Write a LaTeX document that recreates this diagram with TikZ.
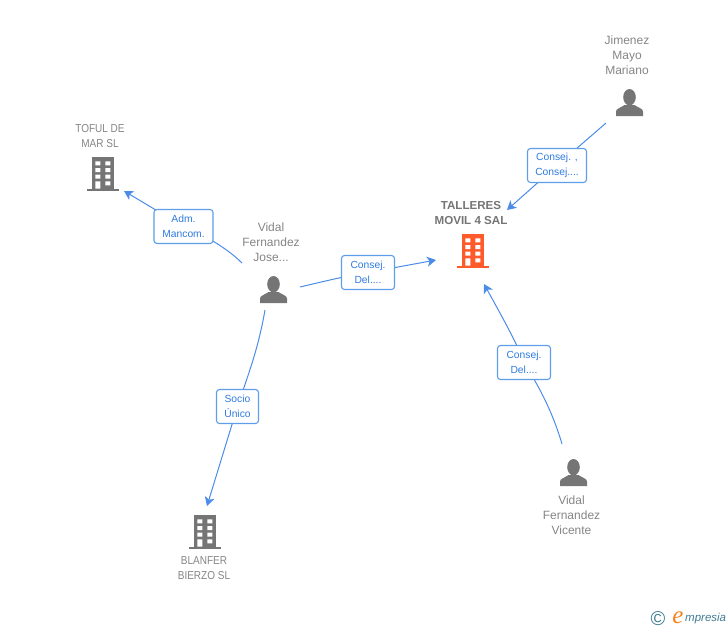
\documentclass[tikz,border=0pt]{standalone}
\usepackage{fontspec}
\setmainfont{Liberation Sans}
\newfontfamily\logoserif{Liberation Serif}
\newfontfamily\narrowcaps[FakeStretch=0.87]{Liberation Sans}
\usetikzlibrary{arrows.meta,backgrounds}
\definecolor{icongrey}{HTML}{757575}
\definecolor{iconorange}{HTML}{FF5A2C}
\definecolor{linkblue}{HTML}{4A8CE8}
\definecolor{boxblue}{HTML}{5E9DEA}
\definecolor{labelblue}{HTML}{2F7BDF}
\definecolor{namegrey}{HTML}{858585}
\definecolor{logoteal}{HTML}{3F7C94}
\definecolor{logoorange}{HTML}{F58220}
\newcommand{\rl}[1]{\raisebox{-0.7pt}{#1}}
\tikzset{
  x=1pt,y=-1pt,
  person/.pic={
    \fill[icongrey] (0,8.2) ellipse[x radius=6.3,y radius=8.2];
    \fill[icongrey] (-13.5,27) -- (-13.5,22.5) .. controls (-13.5,19.5) and (-9,19) .. (-5,16) -- (5,16) .. controls (9,19) and (13.5,19.5) .. (13.5,22.5) -- (13.5,27) -- cycle;
  },
  tower/.pic={
    \fill[pic actions] (-11,0) rectangle (11,32);
    \fill[pic actions] (-16,31.5) rectangle (16,34);
    \fill[white] (-7.7,4.3) rectangle (-2.7,8.3) (2.3,4.3) rectangle (7.3,8.3)
      (-7.7,11) rectangle (-2.7,15) (2.3,11) rectangle (7.3,15)
      (-7.7,17.7) rectangle (-2.7,21.7) (2.3,17.7) rectangle (7.3,21.7)
      (-7.7,24.3) rectangle (-2.7,31.5) (2.3,24.3) rectangle (7.3,28.3);
  },
  nametext/.style={text=namegrey,align=center,inner sep=0pt,font=\fontsize{12}{15}\selectfont},
  capsname/.style={text=namegrey,align=center,inner sep=0pt,font=\narrowcaps\fontsize{11.5}{15}\selectfont},
  mainname/.style={text=icongrey,align=center,inner sep=0pt,font=\fontsize{11.6}{15}\selectfont\bfseries},
  role/.style={draw=boxblue,line width=1.1pt,fill=white,rounded corners=3pt,text=labelblue,align=center,
    inner sep=0pt,font=\fontsize{10.3}{15}\selectfont,anchor=center},
  conn/.style={draw=linkblue,line width=1pt,-{Stealth[length=9pt,width=10pt,inset=2.5pt]}},
}
\begin{document}
\begin{tikzpicture}
\useasboundingbox (0,0) rectangle (728,630);

% names
\node[nametext] (jimenez) at (627,55) {Jimenez\\Mayo\\Mariano};
\node[capsname] (toful) at (100,136) {TOFUL DE\\MAR SL};
\node[mainname] (talleres) at (471,213) {TALLERES\\MOVIL 4 SAL};
\node[nametext] (jose) at (271,242) {Vidal\\Fernandez\\Jose...};
\node[nametext] (vicente) at (571.5,515) {Vidal\\Fernandez\\Vicente};
\node[capsname] (blanfer) at (204,568.5) {BLANFER\\BIERZO SL};

% icons
\pic at (629.5,89) {person};
\pic at (273.5,276) {person};
\pic at (573.5,459) {person};
\pic[fill=icongrey] at (103,157) {tower};
\pic[fill=iconorange] at (473,234) {tower};
\pic[fill=icongrey] at (205,515) {tower};

% role labels
\node[role,minimum width=59pt,minimum height=34pt] (r1) at (557,165.5) {\rl{Consej. ,}\\\rl{Consej....}};
\node[role,minimum width=59pt,minimum height=34pt] (r2) at (183.5,226.5) {\rl{Adm.}\\\rl{Mancom.}};
\node[role,minimum width=53pt,minimum height=34pt] (r3) at (368,272.5) {\rl{Consej.}\\\rl{Del....}};
\node[role,minimum width=42pt,minimum height=34pt] (r4) at (237.5,406.5) {\rl{Socio}\\\rl{Único}};
\node[role,minimum width=53pt,minimum height=34pt] (r5) at (524,362.5) {\rl{Consej.}\\\rl{Del....}};

% connector ends
\coordinate (jimenez-out) at (606,123);
\coordinate (talleres-in1) at (507,210);
\coordinate (jose-out1) at (242,263);
\coordinate (toful-in) at (124,191);
\coordinate (jose-out2) at (300,287);
\coordinate (talleres-in2) at (436,260);
\coordinate (jose-out3) at (265,310);
\coordinate (blanfer-in) at (207,506);
\coordinate (vicente-out) at (562,444);
\coordinate (talleres-in3) at (484,284);

\begin{scope}[on background layer]
\draw[conn] (jimenez-out) -- (r1.center) -- (talleres-in1);
\draw[conn] (jose-out1) .. controls (228,249) and (205,235) .. (r2.center) -- (toful-in);
\draw[conn] (jose-out2) .. controls (315,283.5) and (345,276) .. (r3.center) -- (talleres-in2);
\draw[conn] (jose-out3) .. controls (258,350) and (248,375) .. (r4.center) -- (blanfer-in);
\draw[conn] (vicente-out) .. controls (552,410) and (538,385) .. (r5.center) .. controls (518,345) and (500,313) .. (talleres-in3);
\end{scope}

% logo
\node[inner sep=0pt,text=logoteal,font=\fontsize{20}{20}\selectfont] (logoc) at (658,618.5) {©};
\node[inner sep=0pt,text=logoorange,font=\logoserif\itshape\fontsize{25}{25}\selectfont] (logoe) at (678,618) {e};
\node[inner sep=0pt,text=logoteal,anchor=west,font=\itshape\fontsize{11.5}{12}\selectfont] (logot) at (685,619) {mpresia};
\end{tikzpicture}
\end{document}
